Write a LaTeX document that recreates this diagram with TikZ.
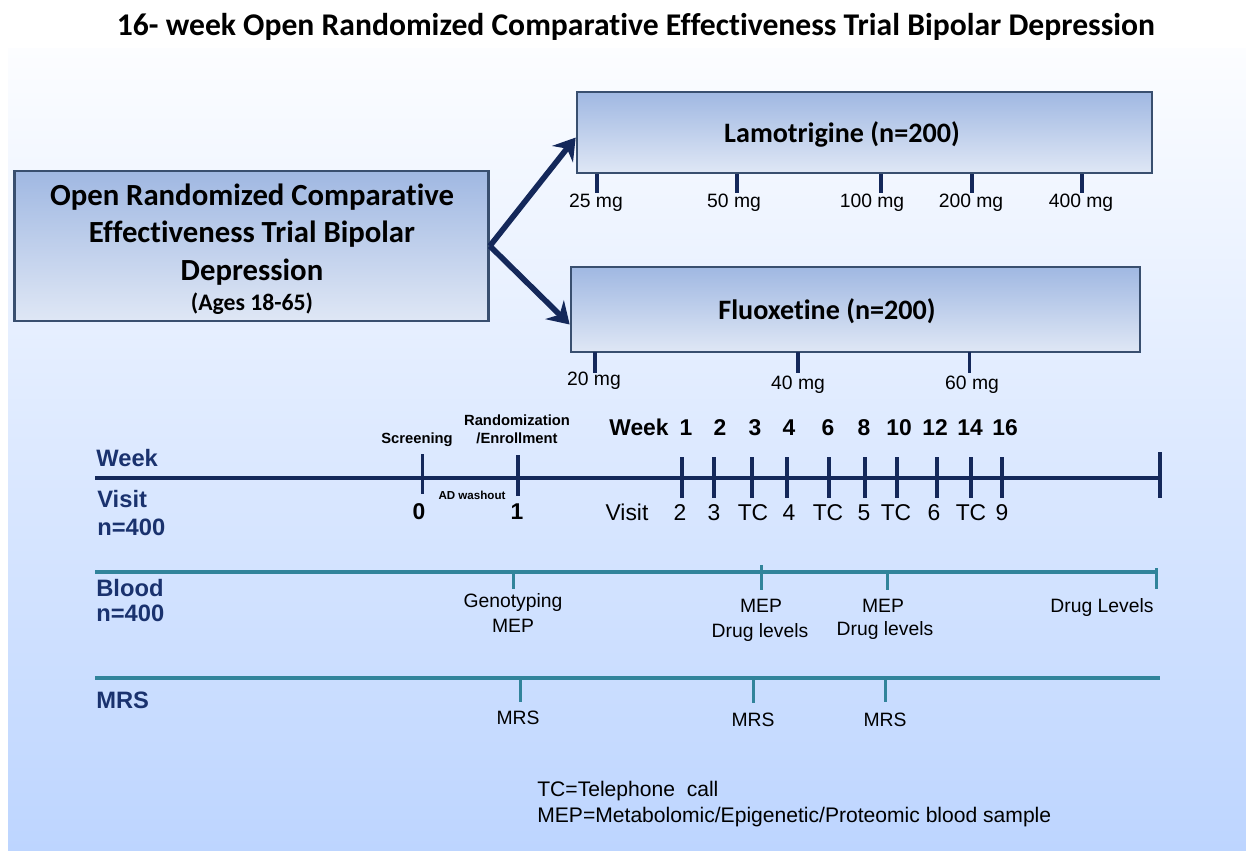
\documentclass[tikz,border=0pt]{standalone}
\usepackage{fontspec}
\setmainfont{Liberation Sans}
\newfontfamily\calibri[Ligatures=NoCommon]{Carlito}
\usetikzlibrary{arrows.meta}

\definecolor{navy}{HTML}{14285A}
\definecolor{labelnavy}{HTML}{1A326E}
\definecolor{bloodteal}{HTML}{31849B}
\definecolor{boxtop}{HTML}{A0B8E2}
\definecolor{boxbottom}{HTML}{DFE7F5}
\definecolor{boxedge}{HTML}{394F6F}
\definecolor{bgtop}{HTML}{FCFDFF}
\definecolor{bgbottom}{HTML}{BDD5FF}

\begin{document}
\begin{tikzpicture}[
        x=0.02cm, y=-0.02cm,
        armbox/.style={
            rectangle,
            draw=boxedge,
            line width=1.6pt,
            top color=boxtop,
            bottom color=boxbottom,
            inner sep=0pt
        },
        boxtext/.style={
            font=\calibri\bfseries\fontsize{17.5}{21}\selectfont,
            anchor=base,
            inner sep=0pt
        },
        armtitle/.style={
            font=\calibri\bfseries\fontsize{16}{19}\selectfont,
            anchor=base,
            inner sep=0pt
        },
        arm arrow/.style={-{Stealth[length=12pt,width=15pt,inset=4pt]}, draw=navy, line width=3.2pt},
        dosetick/.style={draw=navy, line width=2.2pt},
        dose/.style={font=\fontsize{11}{13}\selectfont, anchor=base, inner sep=0pt},
        rowlabel/.style={font=\bfseries\fontsize{13.5}{16}\selectfont, text=labelnavy, anchor=base west, inner sep=0pt},
        weekline/.style={draw=navy, line width=2.3pt},
        weektick/.style={draw=navy, line width=2pt},
        wknum/.style={font=\bfseries\fontsize{13}{15}\selectfont, anchor=base, inner sep=0pt},
        visitnum/.style={font=\fontsize{13}{15}\selectfont, anchor=base, inner sep=0pt},
        tinytext/.style={font=\bfseries\fontsize{8.4}{10}\selectfont, anchor=base, inner sep=0pt},
        bloodline/.style={draw=bloodteal, line width=2.2pt},
        bloodtick/.style={draw=bloodteal, line width=1.7pt},
        sampletext/.style={font=\fontsize{11}{13}\selectfont, anchor=base, inner sep=0pt},
        legend/.style={font=\fontsize{12}{14}\selectfont, anchor=base west, inner sep=0pt}
    ]

    \useasboundingbox (0,0) rectangle (1246,850);

    % Background
    \fill[top color=bgtop, bottom color=bgbottom] (8,48) rectangle (1246,850);

    % Title
    \node[font=\calibri\bfseries\fontsize{18}{21}\selectfont, anchor=base, inner sep=0pt] (title) at (636,35)
        {16- week Open Randomized Comparative Effectiveness Trial Bipolar Depression};

    % Trial box and the two arms
    \node[armbox, minimum width=9.48cm, minimum height=3cm] (trial) at (251.5,246) {};
    \node[boxtext] (t1) at (252,205) {Open Randomized Comparative};
    \node[boxtext] (t2) at (252,242) {Effectiveness Trial Bipolar};
    \node[boxtext] (t3) at (252,280) {Depression};
    \node[boxtext, font=\calibri\bfseries\fontsize{13.5}{16}\selectfont] (t4) at (252,310.5) {(Ages 18-65)};

    \node[armbox, minimum width=11.5cm, minimum height=1.62cm] (lam) at (864.5,132.5) {};
    \node[armtitle] (lamtext) at (842,142) {Lamotrigine (n=200)};
    \node[armbox, minimum width=11.38cm, minimum height=1.7cm] (flu) at (855.5,309.5) {};
    \node[armtitle] (flutext) at (827,319) {Fluoxetine (n=200)};

    % Randomization arrows
    \draw[arm arrow] (trial.east) -- (lam.181);
    \draw[arm arrow] (trial.east) -- (flu.183);

    % Lamotrigine doses
    \foreach \x/\lx/\d in {597/596/25, 737/734/50, 881/872/100, 972/971/200, 1082/1081/400} {
        \draw[dosetick] (\x,174) -- (\x,193);
        \node[dose] at (\lx,207) {\d\ mg};
    }

    % Fluoxetine doses
    \draw[dosetick] (595,352) -- (595,373);
    \node[dose] (d20) at (594,385) {20 mg};
    \draw[dosetick] (798,352) -- (798,373);
    \node[dose] (d40) at (798,389) {40 mg};
    \draw[dosetick] (969.5,352) -- (969.5,373);
    \node[dose] (d60) at (972,389) {60 mg};

    % Week / visit timeline
    \node[rowlabel] (weeklabel) at (96,466) {Week};
    \node[rowlabel] (visitlabel) at (97,507) {Visit};
    \node[rowlabel] (visitn) at (97,535) {n=400};
    \coordinate (wkstart) at (95,478);
    \coordinate (wkend) at (1160,478);
    \draw[weekline] (wkstart) -- (wkend);
    \draw[weektick] (1160,452) -- (1160,498);

    \draw[weektick] (422.5,454) -- (422.5,494);
    \draw[weektick] (518,455) -- (518,496);
    \node[tinytext] (screen) at (417,443) {Screening};
    \node[tinytext] (rand) at (517,425) {Randomization};
    \node[tinytext] (enrol) at (517,443) {/Enrollment};
    \node[tinytext, font=\bfseries\fontsize{6.6}{8}\selectfont] (washout) at (472,499) {AD washout};
    \node[wknum] (v0) at (419,519) {0};
    \node[wknum] (v1) at (517,519) {1};

    \node[wknum] (weekhead) at (639,435) {Week};
    \node[visitnum] (visithead) at (627,520) {Visit};
    \foreach \x/\wx/\w/\vx/\v in {682/686/1/680/2, 714/720/2/714/3, 752/755/3/753/TC,
                                 787/789/4/789/4, 829/828/6/828/TC, 865/864/8/864/5,
                                 897/899/10/896/TC, 937/935/12/934/6, 971/970/14/971/TC,
                                 1002/1005/16/1002/9} {
        \draw[weektick] (\x,457) -- (\x,498);
        \node[wknum] at (\wx,435) {\w};
        \node[visitnum] at (\vx,520) {\v};
    }

    % Blood samples
    \node[rowlabel] (bloodlabel) at (96,596) {Blood};
    \node[rowlabel] (bloodn) at (96,621) {n=400};
    \coordinate (blstart) at (95,572);
    \coordinate (blend) at (1158,572);
    \draw[bloodline] (blstart) -- (blend);
    \draw[bloodtick] (513,572) -- (513,589);
    \draw[bloodtick] (761,565) -- (761,590);
    \draw[bloodtick] (887,572) -- (887,590);
    \draw[bloodtick] (1156,568) -- (1156,589);
    \node[sampletext] (geno) at (513,607) {Genotyping};
    \node[sampletext] (mep1) at (513,632) {MEP};
    \node[sampletext] (mep2) at (761,612) {MEP};
    \node[sampletext] (lev2) at (760,637) {Drug levels};
    \node[sampletext] (mep3) at (883,612) {MEP};
    \node[sampletext] (lev3) at (885,635) {Drug levels};
    \node[sampletext] (lev4) at (1102,612) {Drug Levels};

    % MRS scans
    \node[rowlabel] (mrslabel) at (96,708) {MRS};
    \coordinate (mrsstart) at (95,678);
    \coordinate (mrsend) at (1160,678);
    \draw[bloodline] (mrsstart) -- (mrsend);
    \draw[bloodtick] (520,678) -- (520,702);
    \draw[bloodtick] (753,678) -- (753,703);
    \draw[bloodtick] (885,678) -- (885,702);
    \node[sampletext] (mrs1) at (518,724) {MRS};
    \node[sampletext] (mrs2) at (753,726) {MRS};
    \node[sampletext] (mrs3) at (885,726) {MRS};

    % Legend
    \node[legend] (leg1) at (537,796.5) {TC=Telephone\ \ call};
    \node[legend] (leg2) at (537,822.5) {MEP=Metabolomic/Epigenetic/Proteomic blood sample};

\end{tikzpicture}
\end{document}
